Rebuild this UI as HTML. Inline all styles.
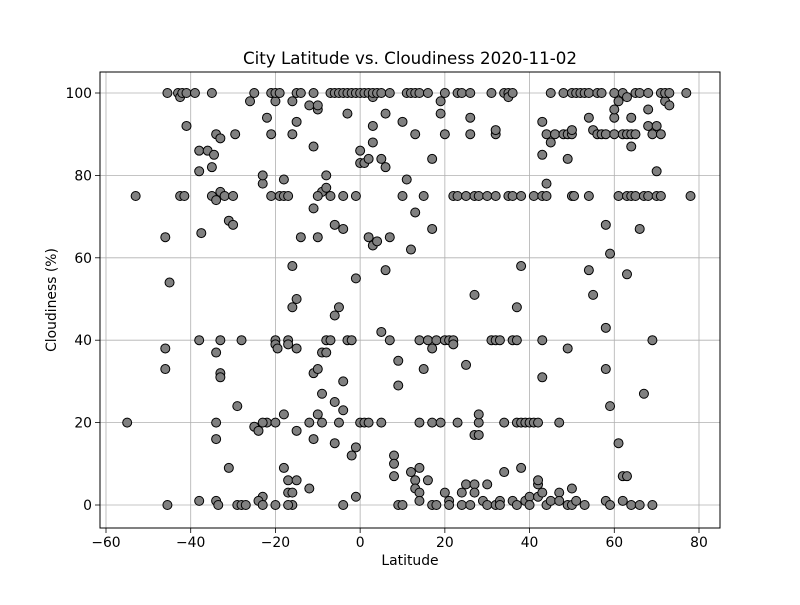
<!DOCTYPE html>
<html><head><meta charset="utf-8"><style>
body{margin:0;background:#fff}
text{font-family:"DejaVu Sans","Liberation Sans",sans-serif;fill:#000}
</style></head><body>
<svg id="chart" width="800" height="600" viewBox="0 0 800 600">
<rect width="800" height="600" fill="#fff"/>
<text x="410" y="64" text-anchor="middle" font-size="16.7">City Latitude vs. Cloudiness 2020-11-02</text>
<g id="grid"></g>
<g id="pts"></g>
<rect x="100" y="72" width="620" height="456" fill="none" stroke="#000" stroke-width="1"/>
<g id="ticks"></g>
<text x="410" y="565" text-anchor="middle" font-size="13.9">Latitude</text>
<text transform="translate(56,300) rotate(-90)" text-anchor="middle" font-size="13.9">Cloudiness (%)</text>
</svg>
<script>
const xTicks=[-60,-40,-20,0,20,40,60,80];
const yTicks=[0,20,40,60,80,100];
const latitudes=[-55,-53,-46,-46,-46,-45.5,-45,-45.5,-43,-42.5,-42,-42.5,-41.5,-41,-41,-39,-38,-38,-37.5,-38,-38,-36,-35,-35,-35,-34.5,-34,-33,-33,-34,-34,-34,-34,-34,-33.5,-33,-33,-33,-32,-31,-30,-29.5,-30,-31,-29,-28,-29,-28,-27,-26,-25,-25,-24,-23,-23,-22,-23,-23,-24,-23,-22,-21,-21,-20,-20,-21,-20,-20,-19.5,-20,-20,-19,-19,-18,-18,-17,-18,-18,-17,-17,-16,-17,-17,-16,-16,-16,-15,-15,-16,-15,-14,-15,-15,-15,-16,-17,-14,-12,-11,-11,-10,-10,-9,-10,-8,-8,-7,-11,-10,-12,-11,-10,-9,-8,-9,-10,-11,-12,-9,-8,-7,-6,-6,-5,-4,-4,-3,-6,-6,-5,-4,-4,-4,-3,-2,-2,-1,-7,-6,-5,-4,-3,-2,-1,0,1,-1,-1,0,0,1,0,-1,1,2,2,2,3,3,3,3,3,4,5,2,4,5,6,6,6,5,5,7,7,7,8,8,8,9,9,9,10,10,10,11,11,12,12,12,13,13,13,14,14,13,13,14,14,14,14,15,15,16,16,16,17,17,17,17,17,18,18,19,19,19,20,20,20,20,21,21,21,22,22,22,23,23,24,23,24,24,25,25,25,26,26,26,26,27,28,27,27,27,27,28,28,28,29,30,30,30,31,31,32,32,32,32,32,33,33,33,34,34,34,35,35,35,36,36,36,36,37,37,37,37,38,38,38,38,39,39,40,40,40,41,41,42,42,42,42,43,43,43,43,43,43,44,44,44,44,45,45,45,46,47,47,47,48,48,49,49,49,49,50,50.5,50,50,50,50,50,51,51,52,53,53,54,54,54,54,55,55,56,56,57,57,58,58,58,58,58,59,59,59,60,60,60,60,61,61,61,62,62,62,62,63,63,63,63,63,64,64,64,64,64,65,65,65,66,66,66,67,67,68,68,68,68,69,69,69,70,70,70,71,71,71,72,72,73,73,77,78];
const cloudiness=[20,75,38,33,65,100,54,0,100,99,100,75,75,100,92,100,86,81,66,40,1,86,82,100,75,85,90,89,76,74,37,20,16,1,0,40,32,31,75,69,68,90,75,9,24,40,0,0,0,98,100,19,18,78,80,20,20,2,1,0,94,90,100,98,100,75,40,39,38,20,0,100,75,75,79,75,22,9,6,3,3,40,39,58,98,90,93,100,48,50,65,38,18,6,0,0,100,97,100,87,96,97,76,75,77,80,75,72,65,20,32,33,37,37,27,22,16,4,20,40,40,46,68,48,67,75,95,25,15,20,30,23,0,40,40,12,2,100,100,100,100,100,100,100,100,100,55,75,83,86,83,20,14,20,100,65,84,63,88,92,99,100,100,100,20,64,84,95,82,57,42,20,40,65,100,12,10,7,29,35,0,0,93,75,79,100,100,8,62,71,90,100,100,20,6,4,3,9,1,40,33,75,40,100,6,84,67,38,20,0,0,40,20,98,95,90,100,40,3,1,0,40,40,39,75,75,100,100,20,3,0,5,34,75,90,94,100,0,75,75,17,5,51,3,17,20,22,1,0,5,75,100,40,40,90,91,75,0,40,1,0,8,20,100,100,99,75,75,40,1,100,48,40,20,0,20,58,9,75,20,1,20,2,0,20,75,5,6,2,20,75,31,40,3,85,93,90,78,75,0,1,88,100,90,20,3,1,90,100,84,90,38,0,75,75,100,90,91,4,0,1,100,100,100,0,57,94,75,100,91,51,90,100,90,100,90,68,33,43,1,61,24,0,94,100,90,96,98,75,15,1,90,100,7,56,90,99,75,7,87,94,75,90,0,100,75,90,100,67,0,27,75,96,92,100,75,0,40,90,81,92,75,100,75,90,98,100,97,100,100,75];
const NS="http://www.w3.org/2000/svg";
function xs(v){return 106+(v+60)*593/140;}
function ys(v){return 505-v*4.12;}
const grid=document.getElementById('grid'),ticks=document.getElementById('ticks'),pts=document.getElementById('pts');
function mk(tag,attrs,parent){const e=document.createElementNS(NS,tag);for(const k in attrs)e.setAttribute(k,attrs[k]);parent.appendChild(e);return e;}
xTicks.forEach(t=>{const x=xs(t);
 const g=mk('line',{x1:x,x2:x,y1:72,y2:528,stroke:'#b0b0b0','stroke-width':0.8},grid);
 
 
 const tk=mk('line',{x1:x,x2:x,y1:528,y2:533,stroke:'#000','stroke-width':0.8},ticks);
 
 
 const tx=mk('text',{x:x,y:547,'text-anchor':'middle','font-size':13.9},ticks);tx.textContent=String(t).replace('-','−');
 
 
});
yTicks.forEach(t=>{const y=ys(t);
 const g=mk('line',{x1:100,x2:720,y1:y,y2:y,stroke:'#b0b0b0','stroke-width':0.8},grid);
 
 
 const tk=mk('line',{x1:95,x2:100,y1:y,y2:y,stroke:'#000','stroke-width':0.8},ticks);
 
 
 const tx=mk('text',{x:92,y:y+5,'text-anchor':'end','font-size':13.9},ticks);tx.textContent=t;
 
 
});
latitudes.forEach((la,i)=>{
 const c=mk('circle',{cx:xs(la),cy:ys(cloudiness[i]),r:4.5,fill:'#808080',stroke:'#000','stroke-width':1},pts);
 
 
});
</script>
</body></html>
